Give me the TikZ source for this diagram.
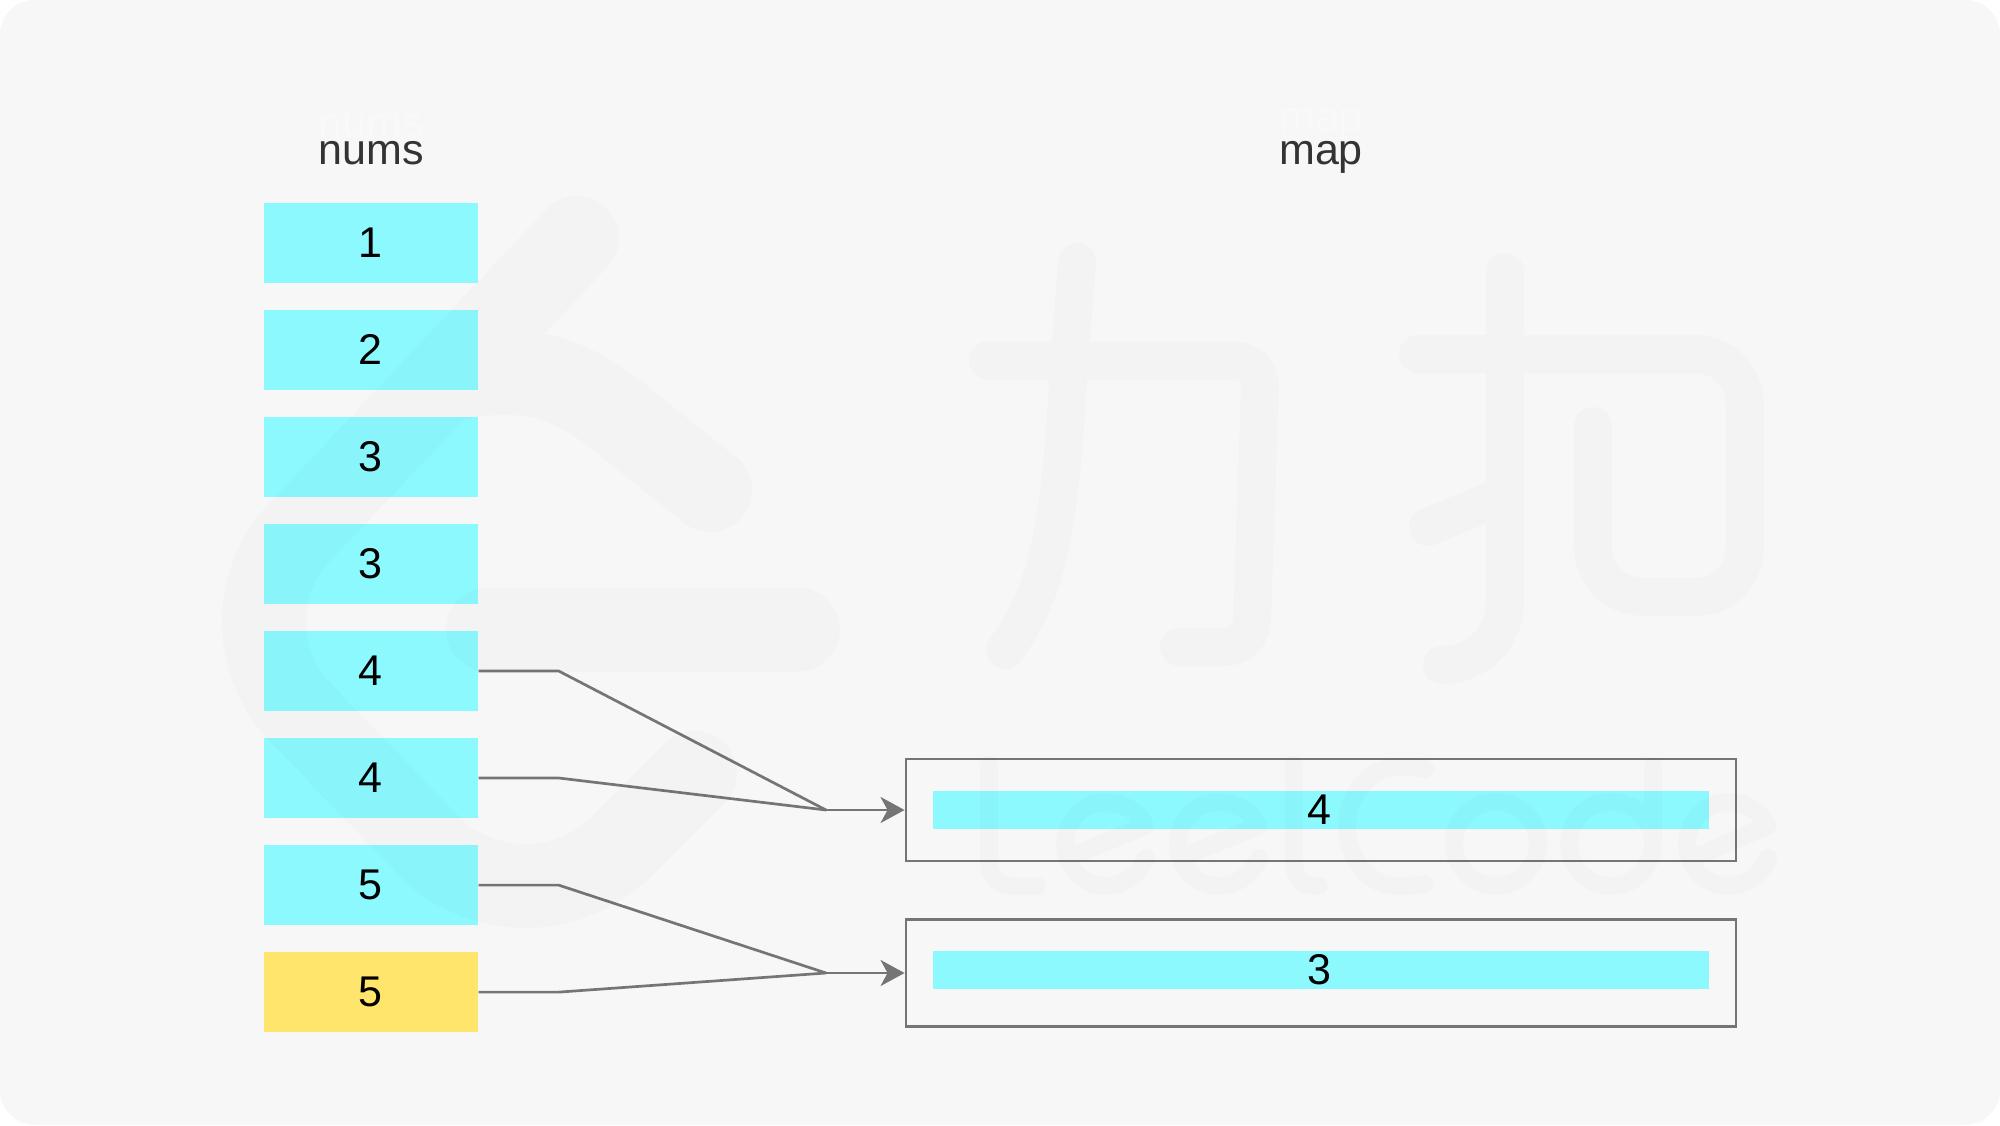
\documentclass[tikz,border=0pt]{standalone}
\usepackage{fontspec}
\setmainfont{Liberation Sans}
\usetikzlibrary{arrows.meta}
\definecolor{bgc}{HTML}{F7F7F7}
\definecolor{cyanc}{HTML}{8CF9FF}
\definecolor{yellowc}{HTML}{FFE56B}
\definecolor{linec}{HTML}{757575}
\definecolor{headc}{HTML}{333333}
\definecolor{ghostc}{HTML}{F9F9F9}
\newcommand{\dgt}[1]{\kern-1.2pt #1}
\tikzset{
  cell/.style={fill=cyanc,draw=none,inner sep=0pt,minimum width=107pt,minimum height=40pt,text=black,font=\fontsize{21.5pt}{26pt}\selectfont},
  cellhot/.style={cell,fill=yellowc},
  mapbox/.style={draw=linec,line width=1.45pt,fill=none,inner sep=0pt,minimum width=415pt},
  mapbar/.style={fill=cyanc,draw=none,inner sep=0pt,minimum width=388pt,minimum height=18.9pt,text=black,font=\fontsize{21.5pt}{26pt}\selectfont},
  head/.style={anchor=base,inner sep=0pt,text=headc,font=\fontsize{21.5pt}{26pt}\selectfont},
  ghost/.style={head,text=ghostc},
  conn/.style={draw=linec,line width=1.35pt,line join=round},
  arr/.style={conn,-{Stealth[length=12pt,width=13pt,inset=3.5pt]}},
  wm/.style={draw=black,draw opacity=.014,line cap=round,line join=round,fill=none}
}
\begin{document}
\begin{tikzpicture}[x=.5pt,y=-.5pt]
\useasboundingbox (0,0) rectangle (2000,1125);
\fill[white] (0,0) rectangle (2000,1125);
\fill[bgc,rounded corners=17.5pt] (0,0) rectangle (2000,1125);

\node[ghost] (gn) at (371,137) {nums};
\node[ghost] (gm) at (1321,131) {map};
\node[head] (hn) at (371.5,164) {nums};
\node[head] (hm) at (1321,164) {map};

\node[cell] (n1) at (371.3,242.8) {\dgt{1}};
\node[cell] (n2) at (371.3,349.9) {\dgt{2}};
\node[cell] (n3) at (371.3,456.9) {\dgt{3}};
\node[cell] (n4) at (371.3,564.0) {\dgt{3}};
\node[cell] (n5) at (371.3,671.0) {\dgt{4}};
\node[cell] (n6) at (371.3,778.0) {\dgt{4}};
\node[cell] (n7) at (371.3,885.1) {\dgt{5}};
\node[cellhot] (n8) at (371.3,992.1) {\dgt{5}};

\node[mapbox,minimum height=51pt] (m1) at (1321,810) {};
\node[mapbox,minimum height=53.5pt] (m2) at (1321,973) {};
\node[mapbar] (b1) at (1321,810) {\dgt{4}};
\node[mapbar] (b2) at (1321,970) {\dgt{3}};

\coordinate (j1) at (826,810);
\coordinate (j2) at (826,973);
\coordinate (k5) at (558.7,671);
\coordinate (k6) at (558.7,778);
\coordinate (k7) at (558.7,885.1);
\coordinate (k8) at (558.7,992.1);
\draw[conn] (n5.east) -- (k5) -- (j1);
\draw[conn] (n6.east) -- (k6) -- (j1);
\draw[conn] (n7.east) -- (k7) -- (j2);
\draw[conn] (n8.east) -- (k8) -- (j2);
\draw[arr] (j1) -- (m1.west);
\draw[arr] (j2) -- (m2.west);

% watermark: logo
\draw[wm,line width=42pt]
  (577,238) -- (300,532) .. controls (275,558) and (264,590) .. (264,621)
  .. controls (264,655) and (277,688) .. (300,712) -- (435,852)
  .. controls (460,875) and (495,886) .. (526,886)
  .. controls (560,886) and (595,872) .. (620,848) -- (695,773)
  (440,384) .. controls (470,372) and (500,372) .. (528,374)
  .. controls (560,376) and (600,400) .. (625,422) -- (710,490)
  (488,629.5) -- (798,629.5);
% watermark: han strokes
\draw[wm,line width=19pt]
  (988,360.5) -- (1235,360.5) .. controls (1250,360.5) and (1260,372) .. (1260,388)
  -- (1252,620) .. controls (1251,636) and (1240,647) .. (1225,647) -- (1179,647)
  (1077,262) -- (1068,380) .. controls (1060,520) and (1050,590) .. (1005,650)
  (1505,272) -- (1505,600) .. controls (1505,640) and (1475,665) .. (1442,665)
  (1418,354) -- (1695,354) .. controls (1725,354) and (1745,378) .. (1745,405)
  -- (1745,545) .. controls (1745,575) and (1725,597) .. (1695,597) -- (1645,597)
  .. controls (1615,597) and (1593,575) .. (1593,545) -- (1593,426)
  (1428,527) -- (1505,495);
% watermark: latin letters
\draw[wm,line width=9pt]
  (989,765) -- (989,860) .. controls (989,878) and (1000,886) .. (1012,886) -- (1037,886)
  (1072,856) -- (1145,826) .. controls (1140,812) and (1122,802) .. (1105,802)
  .. controls (1083,802) and (1065,822) .. (1065,844) .. controls (1065,866) and (1083,886) .. (1105,886)
  .. controls (1125,886) and (1140,873) .. (1146,858)
  (1185,856) -- (1258,826) .. controls (1253,812) and (1235,802) .. (1218,802)
  .. controls (1196,802) and (1178,822) .. (1178,844) .. controls (1178,866) and (1196,886) .. (1218,886)
  .. controls (1238,886) and (1253,873) .. (1259,858)
  (1293.5,765) -- (1293.5,860) .. controls (1293.5,878) and (1303,886) .. (1315,886) -- (1319,886)
  (1425,769) .. controls (1415,767) and (1405,767) .. (1397,767)
  .. controls (1370,767) and (1347,795) .. (1347,826) .. controls (1347,860) and (1370,886) .. (1397,886)
  .. controls (1405,886) and (1415,886) .. (1425,884)
  (1496,801.5) .. controls (1519,801.5) and (1538,820) .. (1538,843.5) .. controls (1538,867) and (1519,886) .. (1496,886)
  .. controls (1473,886) and (1454,867) .. (1454,843.5) .. controls (1454,820) and (1473,801.5) .. (1496,801.5)
  (1611,801.5) .. controls (1634,801.5) and (1653,820) .. (1653,843.5) .. controls (1653,867) and (1634,886) .. (1611,886)
  .. controls (1588,886) and (1569,867) .. (1569,843.5) .. controls (1569,820) and (1588,801.5) .. (1611,801.5)
  (1653,766) -- (1653,843.5)
  (1698,856) -- (1767,826) .. controls (1762,812) and (1745,802) .. (1728,802)
  .. controls (1705,802) and (1687,822) .. (1687,844) .. controls (1687,866) and (1705,886) .. (1728,886)
  .. controls (1748,886) and (1762,873) .. (1768,858);
\end{tikzpicture}
\end{document}
